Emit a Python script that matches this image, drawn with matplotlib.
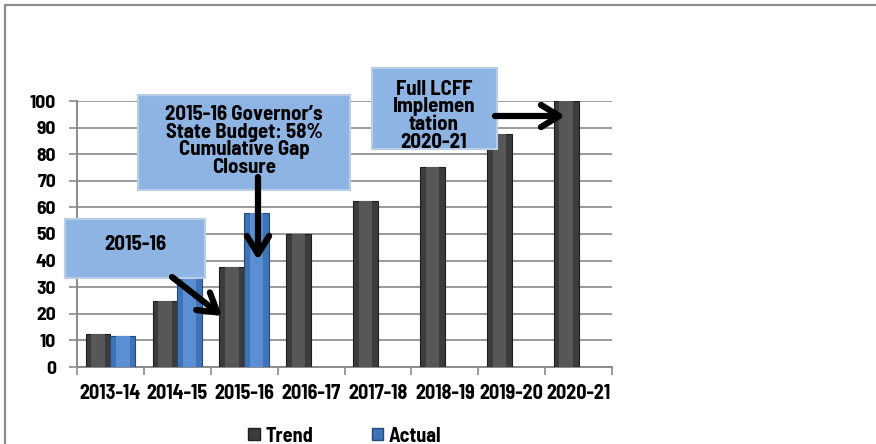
import numpy as np
import matplotlib.pyplot as plt
from matplotlib.patches import Rectangle, Patch

## data
years = ['2013-14', '2014-15', '2015-16', '2016-17', '2017-18', '2018-19', '2019-20', '2020-21']
trend = [12.5, 25, 37.5, 50, 62.5, 75, 87.5, 100]
actual = [11.78, 37.86, 57.86]
yticks = list(range(0, 101, 10))

W, H = 876, 444
FONT = ['Barlow Semi Condensed', 'Liberation Sans', 'DejaVu Sans']
plt.rcParams['font.family'] = FONT
plt.rcParams['font.weight'] = 'bold'

fig = plt.figure(figsize=(W / 100, H / 100), dpi=100)

## helper: pixel (from top-left) -> figure fraction
def fx(px):
    return px / W

def fy(py):
    return 1 - py / H

ax = fig.add_axes([fx(77), fy(367), fx(612) - fx(77), fy(101) - fy(367)])

x = np.arange(len(years))
bw = 0.37
trend_col = '#3c3c3c'
actual_col = '#3f73b8'

## bars with a lighter inner strip to fake the bevel
ax.bar(x - bw / 2, trend, bw, color=trend_col, edgecolor='#1e1e1e', linewidth=0.8, zorder=3)
ax.bar(x - bw / 2, trend, bw * 0.55, color='#575757', linewidth=0, zorder=3)
ax.bar(x[:len(actual)] + bw / 2, actual, bw, color=actual_col, edgecolor='#24497a', linewidth=0.8, zorder=3)
ax.bar(x[:len(actual)] + bw / 2, actual, bw * 0.55, color='#5a8fd4', linewidth=0, zorder=3)

ax.set_xlim(-0.5, len(years) - 0.5)
ax.set_ylim(0, 100)
ax.set_yticks(yticks)
ax.set_yticklabels([str(v) for v in yticks], fontsize=14, fontweight='bold')
ax.yaxis.grid(True, color='#9a9a9a', linewidth=1.4, zorder=0)
ax.set_axisbelow(True)

## tick marks at category boundaries, labels at centres
ax.set_xticks(np.arange(-0.5, len(years), 1.0))
ax.set_xticklabels([])
ax.set_xticks(x, minor=True)
ax.set_xticklabels(years, minor=True, fontsize=14.5, fontweight='bold')
ax.tick_params(axis='x', which='minor', length=0, pad=12)
ax.tick_params(axis='x', which='major', length=6, width=1.2, color='#8a8a8a', direction='out')
ax.tick_params(axis='y', length=6, width=1.2, color='#8a8a8a', pad=9)

for s in ['top', 'right']:
    ax.spines[s].set_visible(False)
for s in ['left', 'bottom']:
    ax.spines[s].set_color('#8a8a8a')
    ax.spines[s].set_linewidth(1.4)

## outer chart frame (cut off on the right and bottom)
fig.patches.append(Rectangle((fx(5), fy(H + 10)), 2, fy(5) - fy(H + 10),
                             transform=fig.transFigure, fill=False,
                             edgecolor='#8c8c8c', linewidth=1.6))

## callout boxes
box_fc = '#8eb4e3'
box_ec = '#b9cde8'

def callout(x0, y0, x1, y1, txt, tx, ty):
    fig.patches.append(Rectangle((fx(x0), fy(y1)), fx(x1) - fx(x0), fy(y0) - fy(y1),
                                 transform=fig.transFigure, facecolor=box_fc,
                                 edgecolor=box_ec, linewidth=1.5, zorder=5))
    fig.text(fx(tx), fy(ty), txt, ha='center', va='top', fontsize=15,
             fontweight='bold', linespacing=0.9, zorder=6)

callout(65, 219, 205, 278, '2015-16', 135, 235)
callout(138, 95, 350, 190, "2015-16 Governor’s\nState Budget: 58%\nCumulative Gap\nClosure", 244, 105)
callout(372, 68, 497, 149, 'Full LCFF\nImplemen\ntation\n2020-21', 434, 80)

## arrows
arrow = dict(arrowstyle='->,head_length=1.3,head_width=0.8', color='black',
             linewidth=4.5, shrinkA=0, shrinkB=0)

def arrow_px(x0, y0, x1, y1):
    a = fig.add_artist(plt.Annotation('', xy=(fx(x1), fy(y1)), xytext=(fx(x0), fy(y0)),
                                      xycoords='figure fraction', textcoords='figure fraction',
                                      arrowprops=arrow))
    a.set_zorder(7)

arrow_px(172, 277, 222, 316)
arrow_px(258, 177, 258, 260)
arrow_px(495, 116, 565, 116)

## legend
handles = [Patch(facecolor=trend_col, edgecolor='#1e1e1e'),
           Patch(facecolor=actual_col, edgecolor='#24497a')]
fig.legend(handles, ['Trend', 'Actual'], loc='center', bbox_to_anchor=(fx(345), fy(436)),
           ncol=2, frameon=False, handlelength=0.55, handleheight=0.55,
           handletextpad=0.3, columnspacing=2.9, prop={'weight': 'bold', 'size': 14.5})

fig.savefig('out.png', dpi=100)
